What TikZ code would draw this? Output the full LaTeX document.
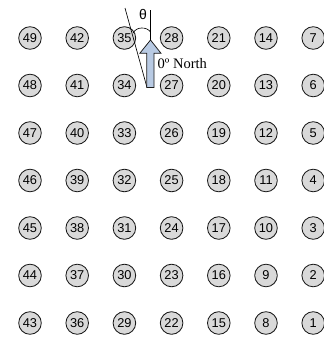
\documentclass[tikz,border=0pt]{standalone}
\usepackage{fontspec}
\setmainfont{Liberation Sans}
\newfontfamily\serifF{Liberation Serif}
\definecolor{arrowblue}{HTML}{B8CAE3}
\definecolor{sitegray}{HTML}{D9D9D9}
\begin{document}
\begin{tikzpicture}[x=1pt,y=-1pt,
  site/.style={circle,draw=black!90,fill=sitegray,line width=0.85pt,minimum size=22.6pt,inner sep=0pt,font=\fontsize{12.8}{12.8}\selectfont},
  guide/.style={draw=black,line width=0.65pt},
  northarrow/.style={draw=black!90,fill=arrowblue,line width=0.75pt,line join=miter}]
\useasboundingbox (0,0) rectangle (324,338);
\foreach \c in {0,...,6}{\foreach \r in {0,...,6}{
  \pgfmathtruncatemacro\n{49-7*\c-\r}
  \node[site] (n\n) at ({30+47.2*\c},{38+47.5*\r}) {\n};}}
% guide lines
\coordinate (slantTop) at (125,8);
\coordinate (slantBot) at (147,87.5);
\coordinate (vertTop) at (150.5,10);
\coordinate (vertBot) at (150.5,80);
\draw[guide] (slantTop) -- (slantBot);
\draw[guide] (vertTop) -- (vertBot);
\coordinate (arcL) at (133.3,33);
\coordinate (arcR) at (150.5,32);
\draw[guide] (arcL) .. controls (136,26.5) and (147,26.5) .. (arcR);
% north arrow
\draw[northarrow] (150.5,40) -- (161,53.3) -- (154,53.3) -- (154,87.5) -- (146.8,87.5) -- (146.8,53.3) -- (139.8,53.3) -- cycle;
\node[inner sep=0pt,font=\fontsize{14}{14}\selectfont] (theta) at (143,14.5) {θ};
\node[inner sep=0pt,anchor=base west,font=\serifF\fontsize{14.5}{14.5}\selectfont] (northlbl) at (157.5,68) {0º North};
\end{tikzpicture}
\end{document}
